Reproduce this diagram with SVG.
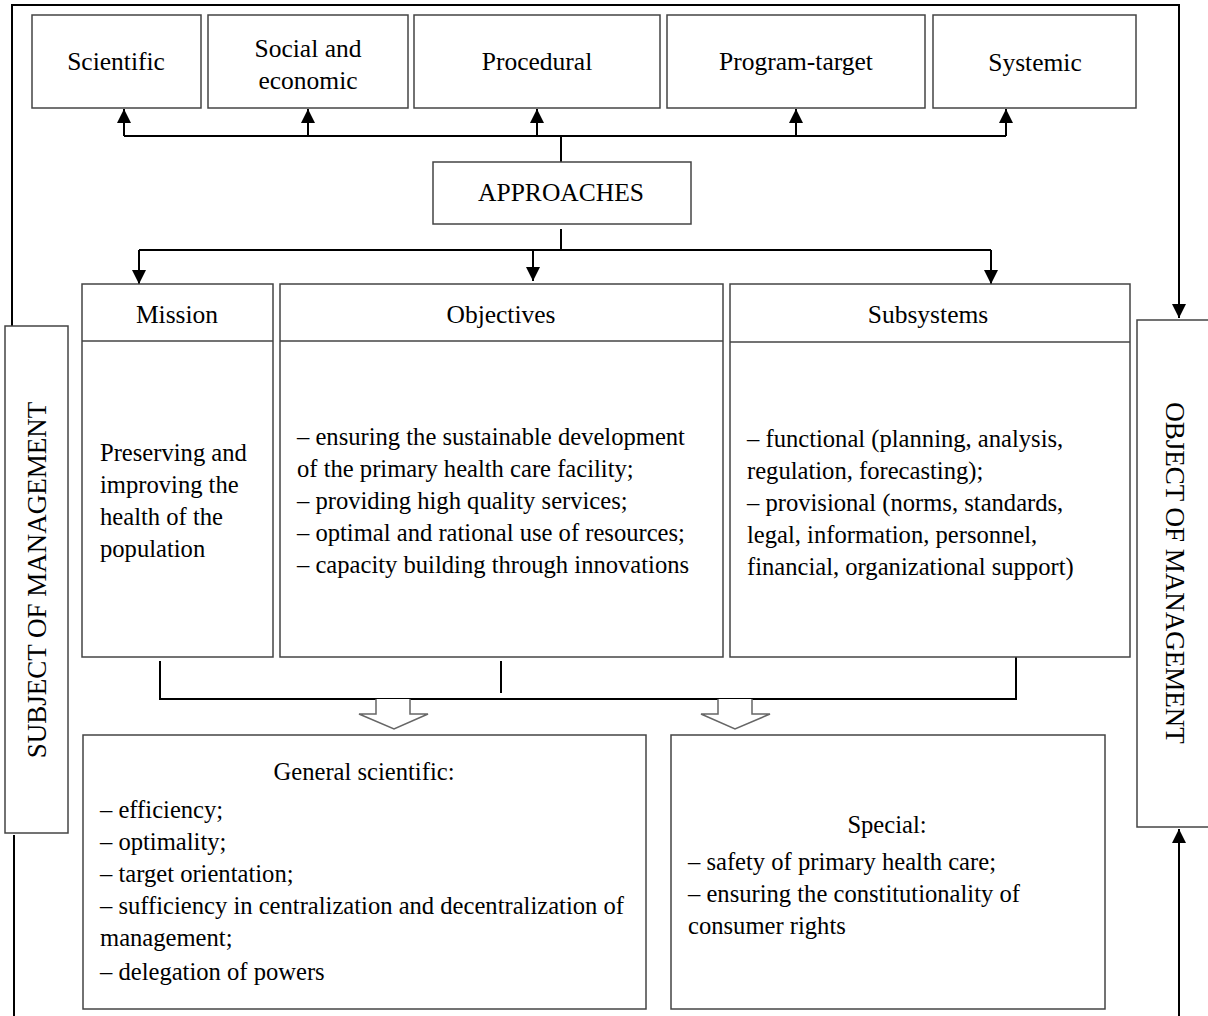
<svg xmlns="http://www.w3.org/2000/svg" width="1208" height="1016" viewBox="0 0 1208 1016">
<defs>
<style>
.box{fill:#fff;stroke:#444;stroke-width:1.5}
.ln{fill:none;stroke:#000;stroke-width:2}
.hol{fill:#fff;stroke:#666;stroke-width:1.5}
text{font-family:"Liberation Serif","Times New Roman",serif;font-size:25.5px;fill:#000}
.c{text-anchor:middle}
.s{font-size:24.6px}
.v{font-size:27px}
</style>
<marker id="ah" viewBox="0 0 10 10" refX="10" refY="5" markerWidth="14" markerHeight="14" markerUnits="userSpaceOnUse" orient="auto">
<path d="M0,0 L10,5 L0,10 z" fill="#000"/>
</marker>
</defs>
<rect width="1208" height="1016" fill="#fff"/>
<g id="connectors">
<path class="ln" d="M12,326 V5 H1179 V318" marker-end="url(#ah)"/>
<path class="ln" d="M14,835 V1016"/>
<path class="ln" d="M1179,1016 V829" marker-end="url(#ah)"/>
<path class="ln" d="M124,136 H1006"/>
<path class="ln" d="M124,136 V109" marker-end="url(#ah)"/>
<path class="ln" d="M308,136 V109" marker-end="url(#ah)"/>
<path class="ln" d="M537,136 V109" marker-end="url(#ah)"/>
<path class="ln" d="M796,136 V109" marker-end="url(#ah)"/>
<path class="ln" d="M1006,136 V109" marker-end="url(#ah)"/>
<path class="ln" d="M561,136 V162"/>
<path class="ln" d="M561,229 V250"/>
<path class="ln" d="M139,250 H991"/>
<path class="ln" d="M139,250 V284" marker-end="url(#ah)"/>
<path class="ln" d="M533,250 V281" marker-end="url(#ah)"/>
<path class="ln" d="M991,250 V284" marker-end="url(#ah)"/>
<path class="ln" d="M160,661 V699 H1016 V657"/>
<path class="ln" d="M501,661 V693"/>
<path class="hol" d="M376,699 V714 H359 L394,729 L428,714 H410 V699"/>
<path class="hol" d="M718,699 V714 H701 L735,729 L770,714 H752 V699"/>
</g>
<g id="scientific"><rect class="box" x="32" y="15" width="169" height="93"/><text class="c" x="116" y="70">Scientific</text></g>
<g id="social"><rect class="box" x="208" y="15" width="200" height="93"/><text class="c" x="308" y="57">Social and</text><text class="c" x="308" y="89">economic</text></g>
<g id="procedural"><rect class="box" x="414" y="15" width="246" height="93"/><text class="c" x="537" y="70">Procedural</text></g>
<g id="programtarget"><rect class="box" x="667" y="15" width="258" height="93"/><text class="c" x="796" y="70">Program-target</text></g>
<g id="systemic"><rect class="box" x="933" y="15" width="203" height="93"/><text class="c" x="1035" y="71">Systemic</text></g>
<g id="approaches"><rect class="box" x="433" y="162" width="258" height="62"/><text class="c" x="561" y="201">APPROACHES</text></g>
<g id="mission"><rect class="box" x="82" y="284" width="191" height="373"/><line class="box" x1="82" y1="341" x2="273" y2="341"/><text class="c" x="177" y="323">Mission</text>
<text class="s" x="100" y="461">Preserving and</text><text class="s" x="100" y="493">improving the</text><text class="s" x="100" y="525">health of the</text><text class="s" x="100" y="557">population</text></g>
<g id="objectives"><rect class="box" x="280" y="284" width="443" height="373"/><line class="box" x1="280" y1="341" x2="723" y2="341"/><text class="c" x="501" y="323">Objectives</text>
<text class="s" x="297" y="445">– ensuring the sustainable development</text>
<text class="s" x="297" y="477">of the primary health care facility;</text>
<text class="s" x="297" y="509">– providing high quality services;</text>
<text class="s" x="297" y="541">– optimal and rational use of resources;</text>
<text class="s" x="297" y="573">– capacity building through innovations</text></g>
<g id="subsystems"><rect class="box" x="730" y="284" width="400" height="373"/><line class="box" x1="730" y1="342" x2="1130" y2="342"/><text class="c" x="928" y="323">Subsystems</text>
<text class="s" x="747" y="447">– functional (planning, analysis,</text>
<text class="s" x="747" y="479">regulation, forecasting);</text>
<text class="s" x="747" y="511">– provisional (norms, standards,</text>
<text class="s" x="747" y="543">legal, information, personnel,</text>
<text class="s" x="747" y="575">financial, organizational support)</text></g>
<g id="subject"><rect class="box" x="5" y="326" width="63" height="507"/><text class="c v" transform="translate(46,580) rotate(-90)">SUBJECT OF MANAGEMENT</text></g>
<g id="object"><rect class="box" x="1137" y="320" width="80" height="507"/><text class="c v" transform="translate(1166,573) rotate(90)">OBJECT OF MANAGEMENT</text></g>
<g id="general"><rect class="box" x="83" y="735" width="563" height="274"/><text class="c s" x="364" y="780">General scientific:</text>
<text class="s" x="100" y="818">– efficiency;</text>
<text class="s" x="100" y="850">– optimality;</text>
<text class="s" x="100" y="882">– target orientation;</text>
<text class="s" x="100" y="914">– sufficiency in centralization and decentralization of</text>
<text class="s" x="100" y="946">management;</text>
<text class="s" x="100" y="980">– delegation of powers</text></g>
<g id="special"><rect class="box" x="671" y="735" width="434" height="274"/><text class="c s" x="887" y="833">Special:</text>
<text class="s" x="688" y="870">– safety of primary health care;</text>
<text class="s" x="688" y="902">– ensuring the constitutionality of</text>
<text class="s" x="688" y="934">consumer rights</text></g>
</svg>
